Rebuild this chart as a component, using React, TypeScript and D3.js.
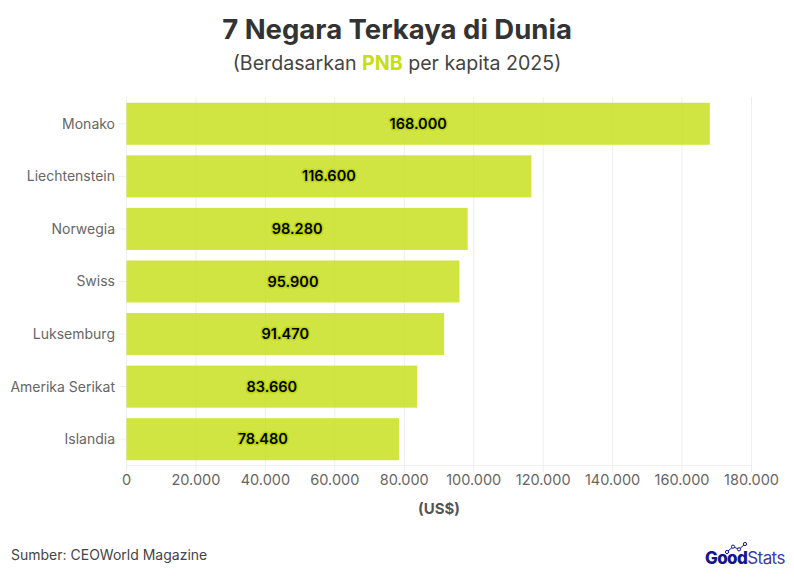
import { useEffect, useRef } from "react";
import * as d3 from "d3";

const countries = ["Monako", "Liechtenstein", "Norwegia", "Swiss", "Luksemburg", "Amerika Serikat", "Islandia"];
const gni = [168000, 116600, 98280, 95900, 91470, 83660, 78480];
const xTicks = [0, 20000, 40000, 60000, 80000, 100000, 120000, 140000, 160000, 180000];
const logoPoints = [0, 1, 2, 3];
const logoLevels = [0, 2, 1, 3];

const width = 794;
const height = 577;
const font = "Inter, 'Open Sans', sans-serif";

// angka pakai titik sebagai pemisah ribuan
const fmt = (v: number) => (v === 0 ? "0" : d3.format(",")(v).replace(/,/g, "."));

const App = () => {
  const svgRef = useRef<SVGSVGElement>(null);

  useEffect(() => {
    const svg = d3.select(svgRef.current);
    svg.selectAll("*").remove();

    const x = d3.scaleLinear().domain([0, 180000]).range([126.5, 751.5]);
    const y = d3.scaleBand().domain(countries).range([97.5, 465.5]).paddingInner(0.2).paddingOuter(0.1);

    // grid
    svg
      .append("g")
      .selectAll("line")
      .data(xTicks)
      .join("line")
      .attr("x1", (d) => x(d))
      .attr("x2", (d) => x(d))
      .attr("y1", 97)
      .attr("y2", 472)
      .attr("stroke", "#eeeeee");

    svg.append("line").attr("x1", 126).attr("x2", 752).attr("y1", 465.5).attr("y2", 465.5).attr("stroke", "#eeeeee");

    // tick kecil di kiri
    svg
      .append("g")
      .selectAll("line")
      .data(countries)
      .join("line")
      .attr("x1", 119)
      .attr("x2", 126)
      .attr("y1", (d) => y(d)! + y.bandwidth() / 2)
      .attr("y2", (d) => y(d)! + y.bandwidth() / 2)
      .attr("stroke", "#eeeeee");

    // bar
    svg
      .append("g")
      .selectAll("rect")
      .data(gni)
      .join("rect")
      .attr("x", x(0))
      .attr("y", (_, i) => y(countries[i])!)
      .attr("width", (d) => x(d) - x(0))
      .attr("height", y.bandwidth())
      .attr("fill", "#c5df13")
      .attr("fill-opacity", 0.8);

    // label nilai
    svg
      .append("g")
      .selectAll("text")
      .data(gni)
      .join("text")
      .attr("x", (d) => x(d / 2))
      .attr("y", (_, i) => y(countries[i])! + y.bandwidth() / 2)
      .attr("dy", "0.35em")
      .attr("text-anchor", "middle")
      .attr("font-family", font)
      .attr("font-size", 14.5)
      .attr("font-weight", 600)
      .attr("fill", "#000000")
      .attr("stroke", "#bdd60f")
      .attr("stroke-width", 3)
      .attr("stroke-linejoin", "round")
      .attr("paint-order", "stroke")
      .text((d) => fmt(d));

    // label negara
    svg
      .append("g")
      .selectAll("text")
      .data(countries)
      .join("text")
      .attr("x", 115)
      .attr("y", (d) => y(d)! + y.bandwidth() / 2)
      .attr("dy", "0.35em")
      .attr("text-anchor", "end")
      .attr("font-family", font)
      .attr("font-size", 14)
      .attr("fill", "#666666")
      .text((d) => d);

    // label sumbu x
    svg
      .append("g")
      .selectAll("text")
      .data(xTicks)
      .join("text")
      .attr("x", (d) => x(d))
      .attr("y", 485)
      .attr("text-anchor", "middle")
      .attr("font-family", font)
      .attr("font-size", 14.5)
      .attr("fill", "#666666")
      .text((d) => fmt(d));

    svg
      .append("text")
      .attr("x", 439)
      .attr("y", 514)
      .attr("text-anchor", "middle")
      .attr("font-family", font)
      .attr("font-size", 15)
      .attr("font-weight", 700)
      .attr("fill", "#555555")
      .text("(US$)");

    // judul
    svg
      .append("text")
      .attr("x", 397)
      .attr("y", 39)
      .attr("text-anchor", "middle")
      .attr("font-family", font)
      .attr("font-size", 27.5)
      .attr("font-weight", 700)
      .attr("fill", "#333333")
      .text("7 Negara Terkaya di Dunia");

    const sub = svg
      .append("text")
      .attr("x", 397)
      .attr("y", 70)
      .attr("text-anchor", "middle")
      .attr("font-family", font)
      .attr("font-size", 19.6)
      .attr("fill", "#444444");
    sub.append("tspan").text("(Berdasarkan ");
    sub.append("tspan").attr("font-weight", 700).attr("fill", "#c5df13").text("PNB");
    sub.append("tspan").text(" per kapita 2025)");

    svg
      .append("text")
      .attr("x", 11)
      .attr("y", 560)
      .attr("font-family", font)
      .attr("font-size", 14)
      .attr("fill", "#444444")
      .text("Sumber: CEOWorld Magazine");

    // logo
    const logo = svg.append("g");
    const logoText = logo
      .append("text")
      .attr("x", 705)
      .attr("y", 564)
      .attr("font-family", font)
      .attr("font-size", 17)
      .attr("letter-spacing", -0.6)
      .attr("fill", "#14148c");
    logoText.append("tspan").attr("font-weight", 800).text("Good");
    logoText.append("tspan").attr("font-weight", 400).attr("fill", "#3a3aa8").text("Stats");

    const lx = d3.scaleLinear().domain([0, 3]).range([727, 745]);
    const ly = d3.scaleLinear().domain([0, 3]).range([552, 544]);
    const logoLine = d3
      .line<number>()
      .x((d) => lx(d))
      .y((d) => ly(logoLevels[d]));
    logo
      .append("path")
      .attr("d", logoLine(logoPoints))
      .attr("fill", "none")
      .attr("stroke", "#14148c")
      .attr("stroke-width", 1);
    logo
      .append("g")
      .selectAll("circle")
      .data(logoPoints)
      .join("circle")
      .attr("cx", (d) => lx(d))
      .attr("cy", (d) => ly(logoLevels[d]))
      .attr("r", 1.6)
      .attr("fill", "#ffffff")
      .attr("stroke", "#14148c");
  }, []);

  return <svg ref={svgRef} width={width} height={height} style={{ position: "absolute", left: 0, top: 0 }}></svg>;
};

export default App;
